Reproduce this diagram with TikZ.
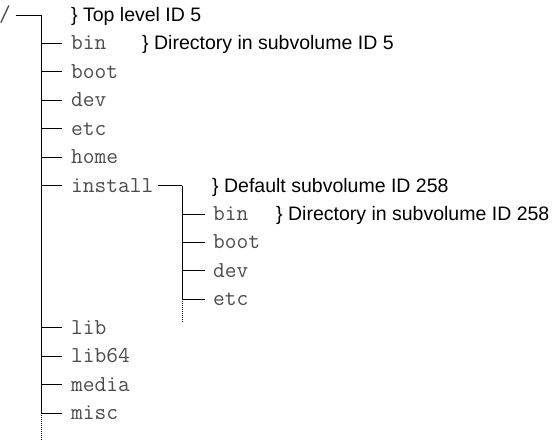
\documentclass[tikz,border=0pt]{standalone}
\usepackage{fontspec}
\setmainfont{Liberation Sans}
\usepackage{tikz}
\usetikzlibrary{positioning, arrows.meta, fit, shapes}

\tikzset{
    dir/.style={anchor=west, inner sep=0pt, text height=13pt, text depth=0pt,
        text=black!70, font=\fontsize{22.8}{26}\selectfont\ttfamily},
    lbl/.style={anchor=west, inner sep=0pt, text height=13pt, text depth=0pt,
        font=\fontsize{19.5}{24}\selectfont},
    branch/.style={line width=0.9pt},
    cont/.style={line width=0.9pt, dash pattern=on 1pt off 1pt}
}

\begin{document}
\begin{tikzpicture}[x=1pt, y=-1pt]
        \useasboundingbox (0,0) rectangle (553,442);

        \coordinate (top) at (41,15);
        \node[dir, anchor=east] (root) at (11,15) {/};
        \draw[branch] ([xshift=5pt]root.east) -- (top);

        \foreach \d [count=\i] in {bin, boot, dev, etc, home, install}{
                \node[dir] (m\d) at (71,{15+28.43*\i}) {\d};
                \draw[branch] ([xshift=-9pt]m\d.west) -- (m\d.west -| top);
            }
        \foreach \d [count=\i from 11] in {lib, lib64, media, misc}{
                \node[dir] (m\d) at (71,{15+28.43*\i}) {\d};
                \draw[branch] ([xshift=-9pt]m\d.west) -- (m\d.west -| top);
            }

        \coordinate (mend) at (41,440);
        \draw[branch] (top) -- (mmisc.west -| top);
        \draw[cont] (mmisc.west -| top) -- (mend);

        \coordinate (sub) at (182,{15+28.43*6});
        \draw[branch] ([xshift=4pt]minstall.east) -- (sub);

        \foreach \d [count=\i from 7] in {bin, boot, dev, etc}{
                \node[dir] (s\d) at (213,{15+28.43*\i}) {\d};
                \draw[branch] ([xshift=-8pt]s\d.west) -- (s\d.west -| sub);
            }

        \coordinate (send) at (182,323);
        \draw[branch] (sub) -- (setc.west -| sub);
        \draw[cont] (setc.west -| sub) -- (send);

        \node[lbl] (toplbl) at (71,15) {\} Top level ID 5};
        \node[lbl] (dirlbl) at (142,{15+28.43}) {\} Directory in subvolume ID 5};
        \node[lbl] (deflbl) at (212,{15+28.43*6}) {\} Default subvolume ID 258};
        \node[lbl] (sdirlbl) at (276,{15+28.43*7}) {\} Directory in subvolume ID 258};

    \end{tikzpicture}
\end{document}
